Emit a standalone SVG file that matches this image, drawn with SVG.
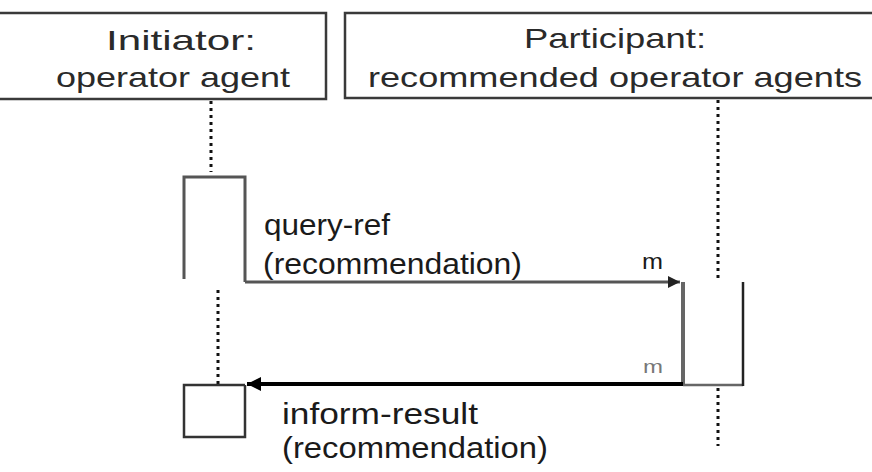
<svg xmlns="http://www.w3.org/2000/svg" width="872" height="472" viewBox="0 0 872 472">
<defs>
<style>
text{font-family:"Liberation Sans",Arial,sans-serif;fill:#1a1a1a}
.hdr{font-size:28px;text-anchor:middle;fill:#2a2a2a}
.lbl{font-size:30px}
.box{fill:#fff;stroke:#3a3a3a;stroke-width:2.5}
.life{stroke:#111;stroke-width:3;stroke-dasharray:3 4;fill:none}
.act{stroke:#555;stroke-width:3;fill:none}
</style>
<marker id="ahGray" viewBox="0 0 10 10" refX="10" refY="5" markerWidth="4" markerHeight="4" orient="auto" markerUnits="strokeWidth"><path d="M0,0 L10,5 L0,10 z" fill="#222"/></marker>
<marker id="ahBlack" viewBox="0 0 10 10" refX="10" refY="5" markerWidth="3.5" markerHeight="3.5" orient="auto" markerUnits="strokeWidth"><path d="M0,0 L10,5 L0,10 z" fill="#000"/></marker>
</defs>
<rect width="872" height="472" fill="#fff"/>
<g id="initiator">
<rect class="box" x="-10" y="13" width="336" height="86"/>
<text class="hdr" x="181" y="50" textLength="150" lengthAdjust="spacingAndGlyphs">Initiator:</text>
<text class="hdr" x="173" y="87" textLength="234" lengthAdjust="spacingAndGlyphs">operator agent</text>
</g>
<g id="participant">
<rect class="box" x="345" y="13" width="540" height="85"/>
<text class="hdr" x="615" y="48" textLength="182" lengthAdjust="spacingAndGlyphs">Participant:</text>
<text class="hdr" x="615" y="87" textLength="494" lengthAdjust="spacingAndGlyphs">recommended operator agents</text>
</g>
<g id="lifelines">
<line class="life" x1="211" y1="101" x2="211" y2="172"/>
<line class="life" x1="218" y1="290" x2="218" y2="384"/>
<line class="life" x1="718" y1="100" x2="718" y2="280"/>
<line class="life" x1="718" y1="388" x2="718" y2="446"/>
</g>
<g id="initiator-activation">
<polyline class="act" points="184,279 184,177 245,177 245,282"/>
<polyline class="act" points="245,385 184,385 184,437 245,437 245,385" style="stroke:#333;stroke-width:2.5"/>
</g>
<g id="participant-activation">
<line x1="683" y1="282" x2="683" y2="385" stroke="#666" stroke-width="4"/>
<line x1="683" y1="385" x2="743" y2="385" stroke="#666" stroke-width="2.5"/>
<line x1="743" y1="282" x2="743" y2="386" stroke="#222" stroke-width="2.5"/>
</g>
<g id="connectors">
<line x1="245" y1="282" x2="680" y2="282" stroke="#555" stroke-width="3" marker-end="url(#ahGray)"/>
<line x1="683" y1="384" x2="247" y2="384" stroke="#000" stroke-width="4" marker-end="url(#ahBlack)"/>
</g>
<g id="labels">
<text class="lbl" x="264" y="235" textLength="126" lengthAdjust="spacingAndGlyphs">query-ref</text>
<text class="lbl" x="263" y="274" textLength="259" lengthAdjust="spacingAndGlyphs">(recommendation)</text>
<text x="642" y="269" style="font-size:22px" textLength="21" lengthAdjust="spacingAndGlyphs">m</text>
<text x="643" y="373" style="font-size:18px;fill:#777" textLength="20" lengthAdjust="spacingAndGlyphs">m</text>
<text class="lbl" x="282" y="424" textLength="196" lengthAdjust="spacingAndGlyphs">inform-result</text>
<text class="lbl" x="282" y="458" textLength="266" lengthAdjust="spacingAndGlyphs">(recommendation)</text>
</g>
</svg>
